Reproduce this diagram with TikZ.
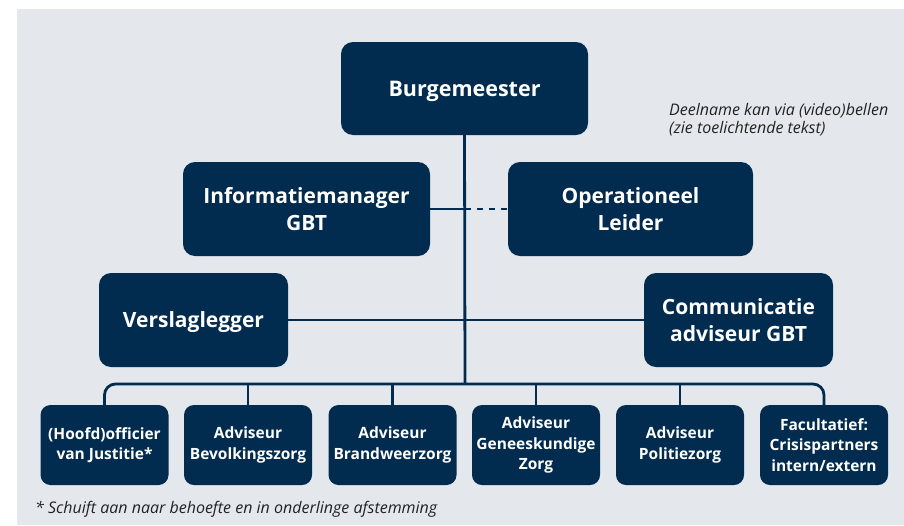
\documentclass[tikz,border=0pt]{standalone}
\usepackage{fontspec}
\setmainfont{Open Sans}
\definecolor{navy}{HTML}{012B4F}
\definecolor{bggray}{HTML}{E4E8EC}
\definecolor{notegray}{HTML}{222222}
\begin{document}
\begin{tikzpicture}[x=1pt,y=-1pt,
  box/.style={fill=navy, rounded corners=12pt, text=white, align=center, inner sep=0pt},
  bigbox/.style={box, font=\bfseries\fontsize{21}{27}\selectfont},
  smallbox/.style={box, rounded corners=10pt, minimum width=128pt, minimum height=80pt, font=\bfseries\fontsize{15.5}{20.5}\selectfont},
  link/.style={draw=navy, line width=2.8pt},
  dashlink/.style={link, dash pattern=on 6pt off 6pt},
  note/.style={text=notegray, inner sep=0pt, font=\itshape\fontsize{16}{18}\selectfont}]
\useasboundingbox (0,0) rectangle (904,525);
\fill[white] (0,0) rectangle (904,525);
\fill[bggray] (17,9) rectangle (904,525);

% top level
\node[bigbox, font=\bfseries\fontsize{21.5}{27}\selectfont, text depth=0pt, minimum width=247pt, minimum height=93pt] (burg) at (464.5,88.5) {Burgemeester};
\node[bigbox, minimum width=247pt, minimum height=94pt] (info) at (306.5,209) {Informatiemanager\\GBT};
\node[bigbox, minimum width=245pt, minimum height=94pt] (oper) at (630.5,209) {Operationeel\\Leider};
\node[bigbox, text depth=0pt, minimum width=189pt, minimum height=94pt] (versl) at (193.5,320) {Verslaglegger};
\node[bigbox, minimum width=189pt, minimum height=94pt] (comm) at (738.5,320) {Communicatie\\adviseur GBT};

% bottom row
\node[smallbox] (b1) at (104.5,445) {(Hoofd)officier\\van Justitie*};
\node[smallbox] (b2) at (248,445) {Adviseur\\Bevolkingszorg};
\node[smallbox] (b3) at (392.5,445) {Adviseur\\Brandweerzorg};
\node[smallbox] (b4) at (536,445) {Adviseur\\Geneeskundige\\Zorg};
\node[smallbox] (b5) at (680,445) {Adviseur\\Politiezorg};
\node[smallbox] (b6) at (824,445) {Facultatief:\\Crisispartners\\intern/extern};

% connectors
\coordinate (bus) at (465,384);
\coordinate (infoj) at (465,209);
\draw[link] (burg.south) -- (bus);
\draw[link] (info.east) -- (infoj);
\draw[dashlink] (infoj) -- (oper.west);
\draw[link] (versl.east) -- (comm.west);
\draw[link, rounded corners=11pt] (b1.north) -- (b1.north |- bus) -- (b6.north |- bus) -- (b6.north);
\foreach \b in {b2,b3,b4,b5} \draw[link] (\b.north |- bus) -- (\b.north);

% notes
\node[note, anchor=north west, align=left] (vnote) at (669,103.5) {Deelname kan via (video)bellen\\(zie toelichtende tekst)};
\node[note, anchor=base west] (fnote) at (35,513) {* Schuift aan naar behoefte en in onderlinge afstemming};
\end{tikzpicture}
\end{document}
